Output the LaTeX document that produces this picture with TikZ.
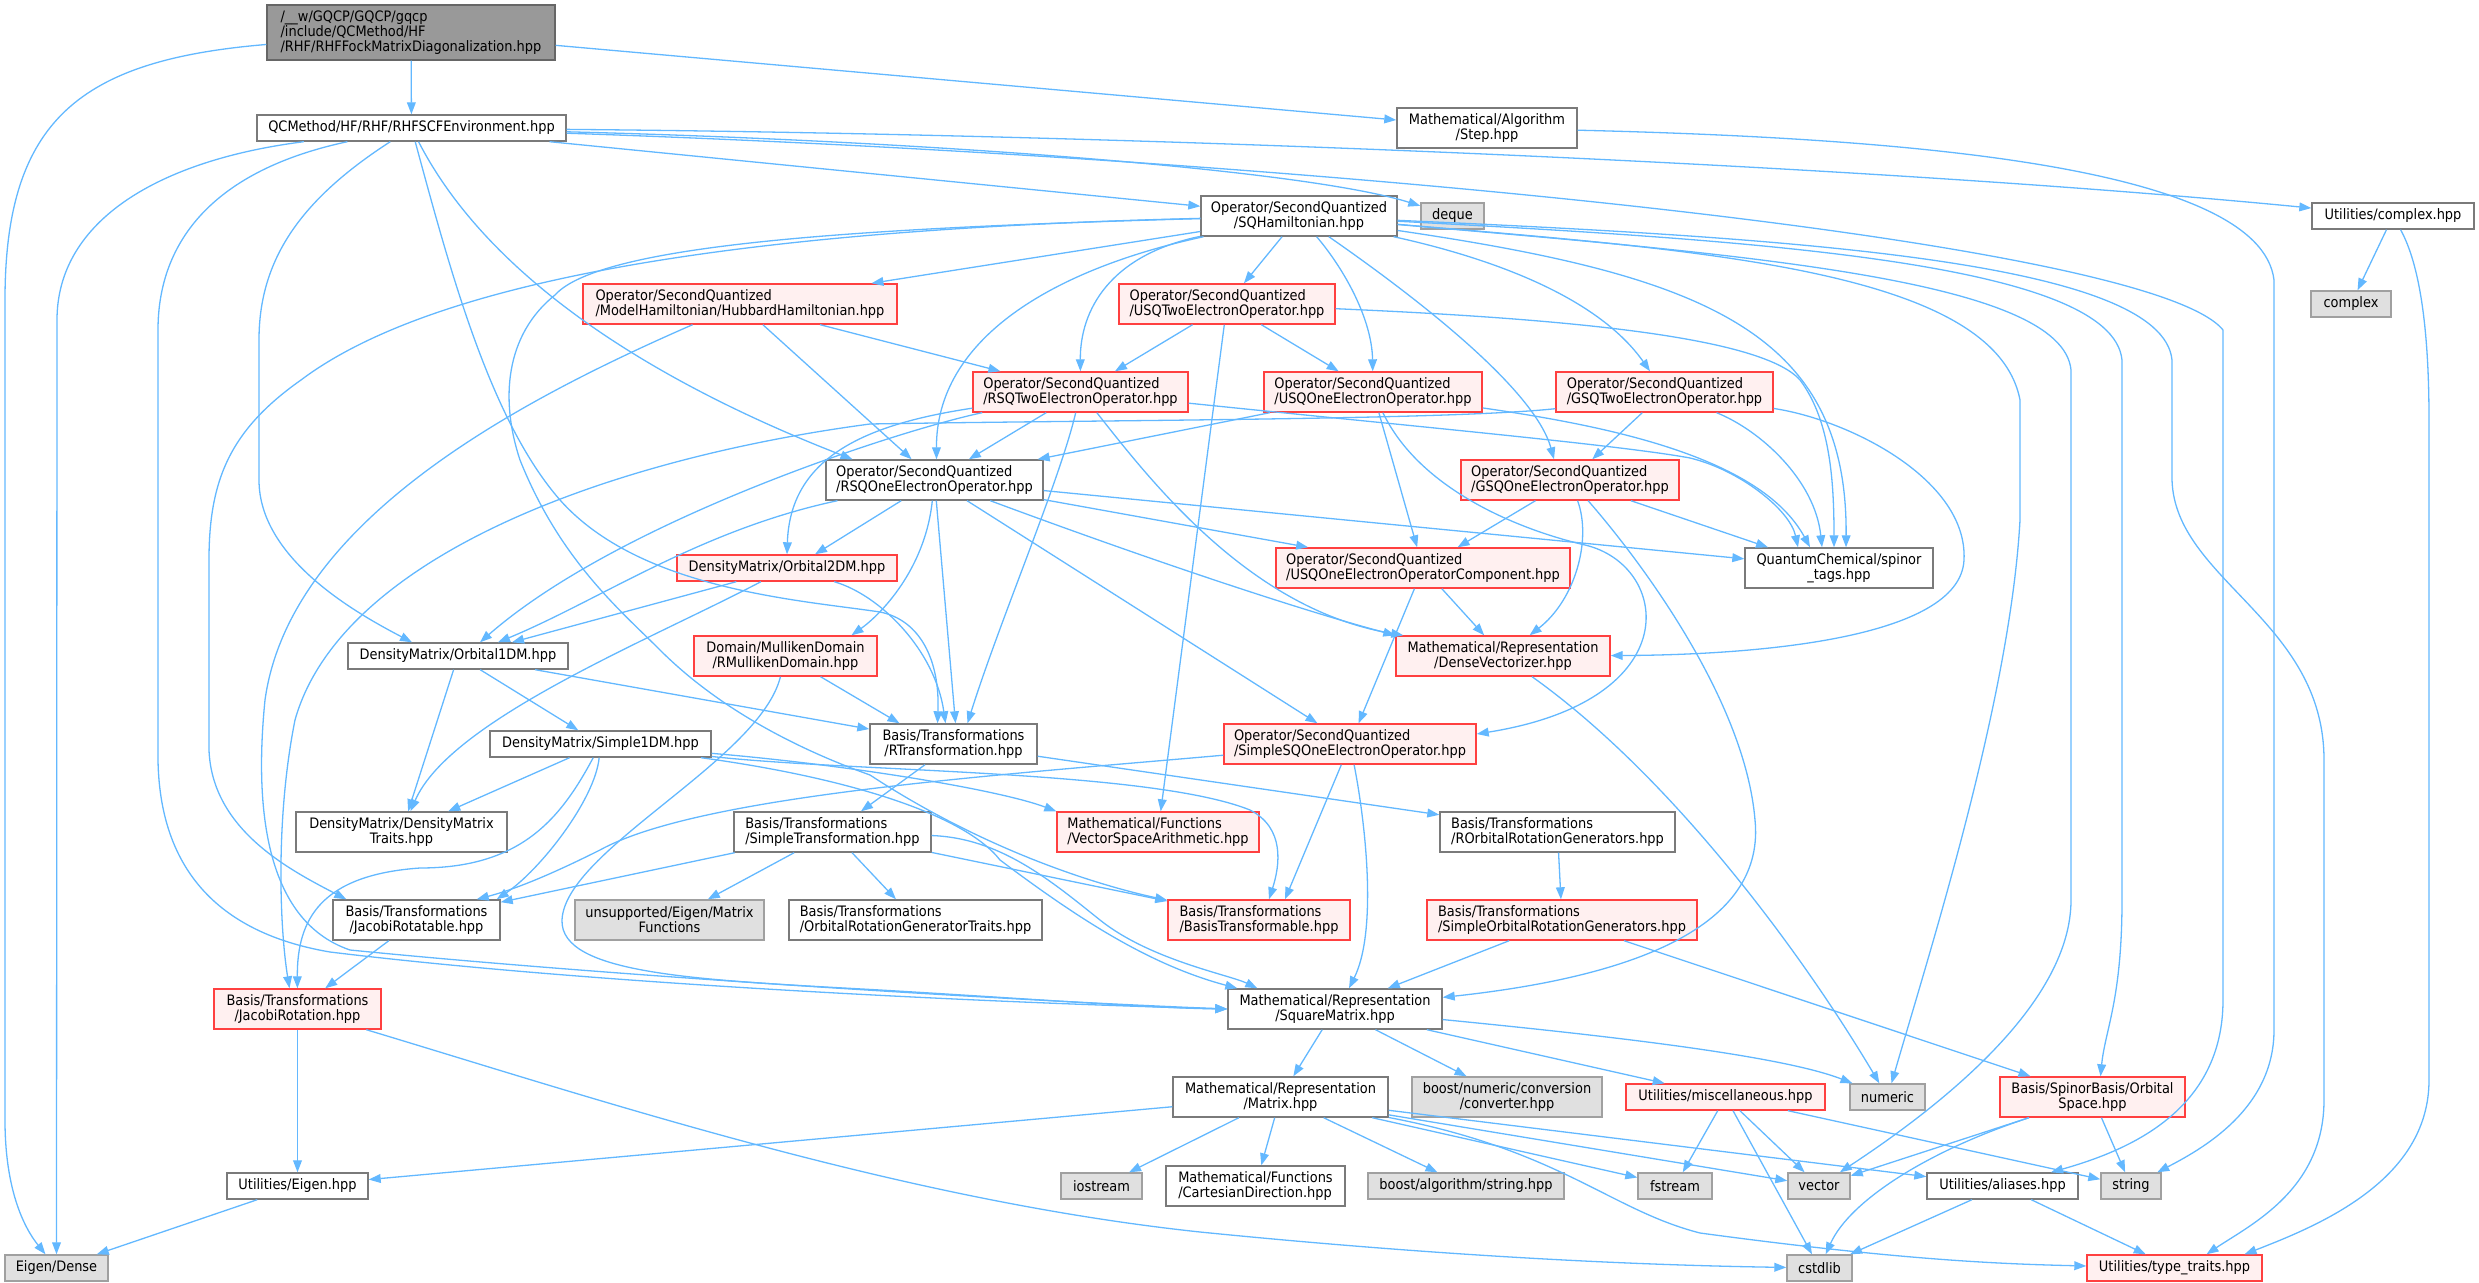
\documentclass[tikz,border=0pt]{standalone}
\usepackage{fontspec}
\setmainfont{DejaVu Sans Condensed}
\usetikzlibrary{arrows.meta}
\definecolor{depblue}{HTML}{63B8FF}
\definecolor{boxedge}{HTML}{7A7A7A}
\definecolor{rootfill}{HTML}{999999}
\definecolor{rootedge}{HTML}{666666}
\definecolor{sysfill}{HTML}{E0E0E0}
\definecolor{sysedge}{HTML}{A0A0A0}
\definecolor{cutfill}{HTML}{FFF0F0}
\definecolor{cutedge}{HTML}{FF4040}
\tikzset{
  filebox/.style={draw=boxedge, fill=white, line width=0.7pt, inner sep=0pt, align=center, font=\fontsize{7.2}{7.5}\selectfont},
  rootbox/.style={filebox, draw=rootedge, fill=rootfill},
  sysbox/.style={filebox, draw=sysedge, fill=sysfill},
  cutbox/.style={filebox, draw=cutedge, fill=cutfill},
  oneline/.style={minimum height=13pt},
  twolines/.style={minimum height=20pt},
  dep/.style={draw=depblue, line width=0.65pt, -{Triangle[length=6pt,width=4.4pt]}}
}
\begin{document}
\begin{tikzpicture}[x=0.5pt,y=-0.5pt]
	\useasboundingbox (0,0) rectangle (2479,1283);
	\node[rootbox, align=left, minimum width=144pt, minimum height=27.5pt] (root) at (411,32.5) {/\_\_w/GQCP/GQCP/gqcp\\/include/QCMethod/HF\\/RHF/RHFFockMatrixDiagonalization.hpp};
	\node[filebox, oneline, minimum width=154.5pt] (scf) at (411.5,128) {QCMethod/HF/RHF/RHFSCFEnvironment.hpp};
	\node[filebox, twolines, minimum width=90pt] (step) at (1487,128) {Mathematical/Algorithm\\/Step.hpp};
	\node[filebox, twolines, minimum width=98pt] (sqham) at (1299,216) {Operator/SecondQuantized\\/SQHamiltonian.hpp};
	\node[sysbox, oneline, minimum width=31.5pt] (deque) at (1452.5,216) {deque};
	\node[filebox, oneline, minimum width=81pt] (cplxh) at (2393,216) {Utilities/complex.hpp};
	\node[sysbox, oneline, minimum width=40pt] (cplx) at (2351,304) {complex};
	\node[cutbox, twolines, align=left, minimum width=157pt] (hub) at (740,304) {Operator/SecondQuantized\\/ModelHamiltonian/HubbardHamiltonian.hpp};
	\node[cutbox, twolines, align=left, minimum width=108pt] (usq2) at (1227,304) {Operator/SecondQuantized\\/USQTwoElectronOperator.hpp};
	\node[cutbox, twolines, align=left, minimum width=107.5pt] (rsq2) at (1080.5,392) {Operator/SecondQuantized\\/RSQTwoElectronOperator.hpp};
	\node[cutbox, twolines, align=left, minimum width=109pt] (usq1) at (1373,392) {Operator/SecondQuantized\\/USQOneElectronOperator.hpp};
	\node[cutbox, twolines, align=left, minimum width=108.5pt] (gsq2) at (1664.5,392) {Operator/SecondQuantized\\/GSQTwoElectronOperator.hpp};
	\node[filebox, twolines, align=left, minimum width=108.5pt] (rsq1) at (934.5,480) {Operator/SecondQuantized\\/RSQOneElectronOperator.hpp};
	\node[cutbox, twolines, align=left, minimum width=109pt] (gsq1) at (1570,480) {Operator/SecondQuantized\\/GSQOneElectronOperator.hpp};
	\node[cutbox, twolines, align=left, minimum width=147pt] (usqc) at (1423,568) {Operator/SecondQuantized\\/USQOneElectronOperatorComponent.hpp};
	\node[filebox, twolines, minimum width=94pt] (spinor) at (1839,568) {QuantumChemical/spinor\\\_tags.hpp};
	\node[cutbox, oneline, minimum width=110pt] (o2dm) at (787,568) {DensityMatrix/Orbital2DM.hpp};
	\node[filebox, oneline, minimum width=110pt] (o1dm) at (458,656) {DensityMatrix/Orbital1DM.hpp};
	\node[cutbox, twolines, minimum width=91.5pt] (mull) at (785.5,656) {Domain/MullikenDomain\\/RMullikenDomain.hpp};
	\node[cutbox, twolines, minimum width=107pt] (dvec) at (1503,656) {Mathematical/Representation\\/DenseVectorizer.hpp};
	\node[filebox, oneline, minimum width=110.5pt] (s1dm) at (600.5,744) {DensityMatrix/Simple1DM.hpp};
	\node[filebox, twolines, minimum width=83.5pt] (rtra) at (953.5,744) {Basis/Transformations\\/RTransformation.hpp};
	\node[cutbox, twolines, align=left, minimum width=126pt] (ssq1) at (1350,744) {Operator/SecondQuantized\\/SimpleSQOneElectronOperator.hpp};
	\node[filebox, twolines, minimum width=105.5pt] (dmtr) at (401.5,832) {DensityMatrix/DensityMatrix\\Traits.hpp};
	\node[filebox, twolines, align=left, minimum width=98.5pt] (stra) at (832.5,832) {Basis/Transformations\\/SimpleTransformation.hpp};
	\node[cutbox, twolines, align=left, minimum width=101pt] (vsa) at (1158,832) {Mathematical/Functions\\/VectorSpaceArithmetic.hpp};
	\node[filebox, twolines, align=left, minimum width=117.5pt] (rorg) at (1557.5,832) {Basis/Transformations\\/ROrbitalRotationGenerators.hpp};
	\node[filebox, twolines, minimum width=83.5pt] (jrtb) at (416.5,920) {Basis/Transformations\\/JacobiRotatable.hpp};
	\node[sysbox, twolines, minimum width=94.5pt] (mfun) at (669.5,920) {unsupported/Eigen/Matrix\\Functions};
	\node[filebox, twolines, align=left, minimum width=126.5pt] (orgt) at (915.5,920) {Basis/Transformations\\/OrbitalRotationGeneratorTraits.hpp};
	\node[cutbox, twolines, align=left, minimum width=91pt] (btf) at (1259,920) {Basis/Transformations\\/BasisTransformable.hpp};
	\node[cutbox, twolines, align=left, minimum width=135pt] (sorg) at (1562,920) {Basis/Transformations\\/SimpleOrbitalRotationGenerators.hpp};
	\node[cutbox, twolines, minimum width=83.5pt] (jrot) at (297.5,1009) {Basis/Transformations\\/JacobiRotation.hpp};
	\node[filebox, twolines, minimum width=107pt] (sqm) at (1335,1009) {Mathematical/Representation\\/SquareMatrix.hpp};
	\node[filebox, twolines, minimum width=107.5pt] (mat) at (1280.5,1097) {Mathematical/Representation\\/Matrix.hpp};
	\node[sysbox, twolines, minimum width=95pt] (conv) at (1507,1097) {boost/numeric/conversion\\/converter.hpp};
	\node[cutbox, oneline, minimum width=99.5pt] (misc) at (1725.5,1097) {Utilities/miscellaneous.hpp};
	\node[sysbox, oneline, minimum width=37.5pt] (numeric) at (1887.5,1097) {numeric};
	\node[cutbox, twolines, minimum width=92.5pt] (ospace) at (2092.5,1097) {Basis/SpinorBasis/Orbital\\Space.hpp};
	\node[filebox, oneline, minimum width=70.5pt] (eigh) at (297.5,1186) {Utilities/Eigen.hpp};
	\node[sysbox, oneline, minimum width=40.5pt] (iostream) at (1101.5,1186) {iostream};
	\node[filebox, twolines, align=left, minimum width=89.5pt] (cart) at (1255.5,1186) {Mathematical/Functions\\/CartesianDirection.hpp};
	\node[sysbox, oneline, minimum width=98pt] (bstr) at (1466,1186) {boost/algorithm/string.hpp};
	\node[sysbox, oneline, minimum width=37pt] (fstream) at (1675,1186) {fstream};
	\node[sysbox, oneline, minimum width=31pt] (vector) at (1819,1186) {vector};
	\node[filebox, oneline, minimum width=75.5pt] (aliases) at (2002.5,1186) {Utilities/aliases.hpp};
	\node[sysbox, oneline, minimum width=30pt] (string) at (2131,1186) {string};
	\node[sysbox, oneline, minimum width=51.5pt] (edense) at (56.5,1268) {Eigen/Dense};
	\node[sysbox, oneline, minimum width=32.5pt] (cstdlib) at (1819.5,1268) {cstdlib};
	\node[cutbox, oneline, minimum width=87.5pt] (tt) at (2174.5,1268) {Utilities/type\_traits.hpp};

	\draw[dep] (root) -- (scf);
	\draw[dep] (root) -- (step);
	\draw[dep] (root) .. controls (80,60) and (5,120) .. (5,300) -- (5,1120) .. controls (5,1200) and (30,1235) .. (edense);
	\draw[dep] (scf) .. controls (160,160) and (57,220) .. (57,320) -- (edense);
	\draw[dep] (scf) .. controls (215,170) and (158,240) .. (158,330) -- (158,760) .. controls (160,880) and (230,935) .. (330,952) .. controls (600,985) and (1000,1003) .. (sqm.west);
	\draw[dep] (scf) .. controls (300,200) and (259,260) .. (259,340) -- (259,480) .. controls (259,560) and (360,615) .. ([xshift=-23pt]o1dm.north);
	\draw[dep] (scf) .. controls (450,270) and (490,420) .. (560,500) .. controls (640,590) and (800,600) .. (880,612) .. controls (920,620) and (940,660) .. ([xshift=-8pt]rtra.north);
	\draw[dep] (scf) .. controls (500,300) and (700,400) .. ([xshift=-41pt]rsq1.north);
	\draw[dep] (scf) -- (sqham);
	\draw[dep] (scf) .. controls (900,140) and (1300,168) .. (deque);
	\draw[dep] (scf) .. controls (1200,135) and (1900,168) .. (cplxh);
	\draw[dep] (scf) .. controls (1300,158) and (2150,240) .. (2223,330) -- (2223,1000) .. controls (2223,1110) and (2130,1150) .. (aliases);
	\draw[dep] (step) .. controls (1900,138) and (2260,165) .. (2274,280) -- (2274,1030) .. controls (2274,1110) and (2200,1150) .. (string);
	\draw[dep] (cplxh) -- (cplx);
	\draw[dep] (cplxh) .. controls (2420,265) and (2429,330) .. (2429,420) -- (2429,1080) .. controls (2429,1180) and (2320,1225) .. ([xshift=35pt]tt.north);

	\draw[dep] (sqham) -- (hub);
	\draw[dep] (sqham) -- (usq2);
	\draw[dep] (sqham) .. controls (1110,255) and (1080,310) .. (rsq2);
	\draw[dep] (sqham) .. controls (1345,270) and (1372,320) .. (usq1);
	\draw[dep] (sqham) .. controls (1500,260) and (1600,300) .. (gsq2);
	\draw[dep] (sqham) .. controls (1420,300) and (1535,390) .. ([xshift=-8pt]gsq1.north);
	\draw[dep] (sqham) .. controls (1050,270) and (936,340) .. ([xshift=1pt]rsq1.north);
	\draw[dep] (sqham) .. controls (800,228) and (450,268) .. (301,380) .. controls (230,430) and (209,480) .. (209,560) -- (209,750) .. controls (212,830) and (290,870) .. ([xshift=7pt]jrtb.north west);
	\draw[dep] (sqham) .. controls (850,228) and (600,245) .. (555,295) .. controls (505,335) and (500,400) .. (520,460) .. controls (560,560) and (620,610) .. (660,650) .. controls (720,710) and (800,750) .. (870,775) .. controls (1000,860) and (1120,890) .. (btf);
	\draw[dep] (sqham) .. controls (1700,275) and (1848,330) .. ([xshift=3.5pt]spinor.north);
	\draw[dep] (sqham) .. controls (1700,250) and (1995,270) .. (2020,400) -- (2020,520) .. controls (2010,700) and (1930,950) .. ([xshift=2pt]numeric.north);
	\draw[dep] (sqham) .. controls (1750,255) and (2062,280) .. (2071,370) -- (2071,900) .. controls (2071,1000) and (1950,1100) .. (vector);
	\draw[dep] (sqham) .. controls (1750,240) and (2112,262) .. (2122,360) -- (2122,900) .. controls (2122,1000) and (2105,1030) .. ([xshift=4pt]ospace.north);
	\draw[dep] (sqham) .. controls (1800,238) and (2162,262) .. (2172,360) -- (2172,480) .. controls (2175,580) and (2324,620) .. (2324,760) -- (2324,1100) .. controls (2324,1190) and (2250,1225) .. ([xshift=16pt]tt.north);

	\draw[dep] (hub) -- (rsq2);
	\draw[dep] (hub) -- (rsq1);
	\draw[dep] (hub) .. controls (520,400) and (290,520) .. (265,700) .. controls (255,800) and (262,920) .. (350,950) .. controls (600,975) and (1000,1000) .. (sqm.west);

	\draw[dep] (usq2) -- (rsq2);
	\draw[dep] (usq2) -- (usq1);
	\draw[dep] (usq2) -- (vsa);
	\draw[dep] (usq2) .. controls (1550,318) and (1760,335) .. (1800,380) .. controls (1830,420) and (1834,480) .. ([xshift=-2.5pt]spinor.north);

	\draw[dep] (rsq2) -- (rsq1);
	\draw[dep] (rsq2) .. controls (900,430) and (620,520) .. ([xshift=11pt]o1dm.north);
	\draw[dep] (rsq2) .. controls (860,425) and (790,460) .. (o2dm.north);
	\draw[dep] (rsq2) .. controls (1060,480) and (1000,620) .. ([xshift=7pt]rtra.north);
	\draw[dep] (rsq2) .. controls (1150,480) and (1250,610) .. ([xshift=4pt]dvec.north west);
	\draw[dep] (rsq2) .. controls (1400,425) and (1620,445) .. (1690,458) .. controls (1740,470) and (1790,510) .. ([xshift=-20.5pt]spinor.north);

	\draw[dep] (usq1) -- (rsq1);
	\draw[dep] (usq1) -- (usqc);
	\draw[dep] (usq1) .. controls (1420,490) and (1520,530) .. (1585,545) .. controls (1670,565) and (1690,700) .. ([yshift=5pt]ssq1.east);
	\draw[dep] (usq1) .. controls (1600,425) and (1760,455) .. ([xshift=-14.5pt]spinor.north);

	\draw[dep] (gsq2) -- (gsq1);
	\draw[dep] (gsq2) .. controls (1760,430) and (1815,480) .. ([xshift=-8.5pt]spinor.north);
	\draw[dep] (gsq2) .. controls (1850,420) and (1968,480) .. (1964,560) .. controls (1960,640) and (1750,655) .. (dvec);
	\draw[dep] ([yshift=2pt]gsq2.south west) .. controls (1450,420) and (1100,420) .. (870,424) .. controls (600,460) and (340,560) .. (295,720) .. controls (275,820) and (280,930) .. ([xshift=-4pt]jrot.north);

	\draw[dep] (gsq1) -- (usqc);
	\draw[dep] (gsq1) .. controls (1592,540) and (1575,600) .. (dvec);
	\draw[dep] (gsq1) -- ([xshift=-35.5pt]spinor.north);
	\draw[dep] (gsq1) .. controls (1640,560) and (1745,700) .. (1755,820) .. controls (1765,920) and (1650,975) .. (sqm);

	\draw[dep] (rsq1) -- ([xshift=1pt]rtra.north);
	\draw[dep] (rsq1) .. controls (925,570) and (880,615) .. ([xshift=33pt]mull.north);
	\draw[dep] (rsq1) -- ([xshift=14pt]o2dm.north);
	\draw[dep] (rsq1) .. controls (700,530) and (600,600) .. ([xshift=20pt]o1dm.north);
	\draw[dep] (rsq1) -- (usqc);
	\draw[dep] (rsq1) .. controls (1150,560) and (1300,610) .. (dvec.north west);
	\draw[dep] (rsq1) -- (ssq1);
	\draw[dep] (rsq1) -- (spinor);

	\draw[dep] (usqc) -- (dvec);
	\draw[dep] (usqc) -- (ssq1);

	\draw[dep] (o2dm) -- ([xshift=27pt]o1dm.north);
	\draw[dep] (o2dm) .. controls (880,595) and (935,650) .. ([xshift=-4pt]rtra.north);
	\draw[dep] (o2dm) .. controls (650,640) and (450,720) .. (dmtr);

	\draw[dep] (o1dm) -- (s1dm);
	\draw[dep] (o1dm) -- (dmtr);
	\draw[dep] (o1dm) -- (rtra);

	\draw[dep] (mull) -- ([xshift=-27pt]rtra.north);
	\draw[dep] (mull) .. controls (760,760) and (565,850) .. (562,920) .. controls (560,975) and (700,980) .. (880,990) .. controls (1050,1000) and (1150,1008) .. (sqm.west);

	\draw[dep] (dvec) .. controls (1670,775) and (1800,950) .. (numeric);

	\draw[dep] (s1dm) -- (dmtr);
	\draw[dep] (s1dm) .. controls (560,820) and (520,868) .. (420,868) .. controls (320,875) and (297,920) .. (jrot);
	\draw[dep] (s1dm) .. controls (595,800) and (540,870) .. ([xshift=-2pt]jrtb.north east);
	\draw[dep] (s1dm) .. controls (850,765) and (1000,790) .. (vsa.north west);
	\draw[dep] (s1dm) .. controls (850,772) and (1150,770) .. (1250,810) .. controls (1285,828) and (1280,865) .. ([xshift=5pt]btf.north);
	\draw[dep] (s1dm) .. controls (850,778) and (965,815) .. (1000,860) .. controls (1080,920) and (1150,965) .. ([xshift=5pt]sqm.north west);

	\draw[dep] (rtra) -- (stra);
	\draw[dep] (rtra) -- (rorg);

	\draw[dep] (ssq1) .. controls (1000,775) and (700,795) .. (600,850) .. controls (560,870) and (520,888) .. ([xshift=-12pt]jrtb.north east);
	\draw[dep] (ssq1) -- ([xshift=13pt]btf.north);
	\draw[dep] (ssq1) .. controls (1365,820) and (1378,930) .. ([xshift=7pt]sqm.north);

	\draw[dep] (stra) -- (jrtb);
	\draw[dep] (stra) -- (mfun);
	\draw[dep] (stra) -- (orgt);
	\draw[dep] (stra) -- (btf);
	\draw[dep] (stra) .. controls (1000,838) and (1050,880) .. (1100,920) .. controls (1150,960) and (1230,975) .. ([xshift=15pt]sqm.north west);

	\draw[dep] (rorg) -- (sorg);
	\draw[dep] (sorg) -- (sqm);
	\draw[dep] (sorg) -- (ospace);

	\draw[dep] (jrtb) -- (jrot);
	\draw[dep] (jrot) -- (eigh);
	\draw[dep] (jrot) .. controls (600,1100) and (900,1200) .. (1200,1232) .. controls (1500,1262) and (1700,1266) .. (cstdlib);
	\draw[dep] (eigh) -- (edense);

	\draw[dep] (sqm) -- (mat);
	\draw[dep] (sqm) -- (conv);
	\draw[dep] (sqm) -- (misc);
	\draw[dep] (sqm) .. controls (1600,1035) and (1780,1055) .. (numeric);

	\draw[dep] (mat) -- (eigh);
	\draw[dep] (mat) -- (iostream);
	\draw[dep] (mat) -- (cart);
	\draw[dep] (mat) -- (bstr);
	\draw[dep] (mat) -- (fstream);
	\draw[dep] (mat) -- (vector);
	\draw[dep] (mat) -- (aliases);
	\draw[dep] (mat) .. controls (1560,1150) and (1610,1210) .. (1700,1233) .. controls (1900,1260) and (2000,1264) .. (tt);

	\draw[dep] (misc) -- (fstream);
	\draw[dep] (misc) -- (vector);
	\draw[dep] (misc) -- (cstdlib);
	\draw[dep] (misc) -- (string);

	\draw[dep] (ospace) -- (vector);
	\draw[dep] (ospace) .. controls (1930,1150) and (1850,1200) .. (cstdlib);
	\draw[dep] (ospace) -- (string);

	\draw[dep] (aliases) -- (cstdlib);
	\draw[dep] (aliases) -- (tt);
\end{tikzpicture}
\end{document}
